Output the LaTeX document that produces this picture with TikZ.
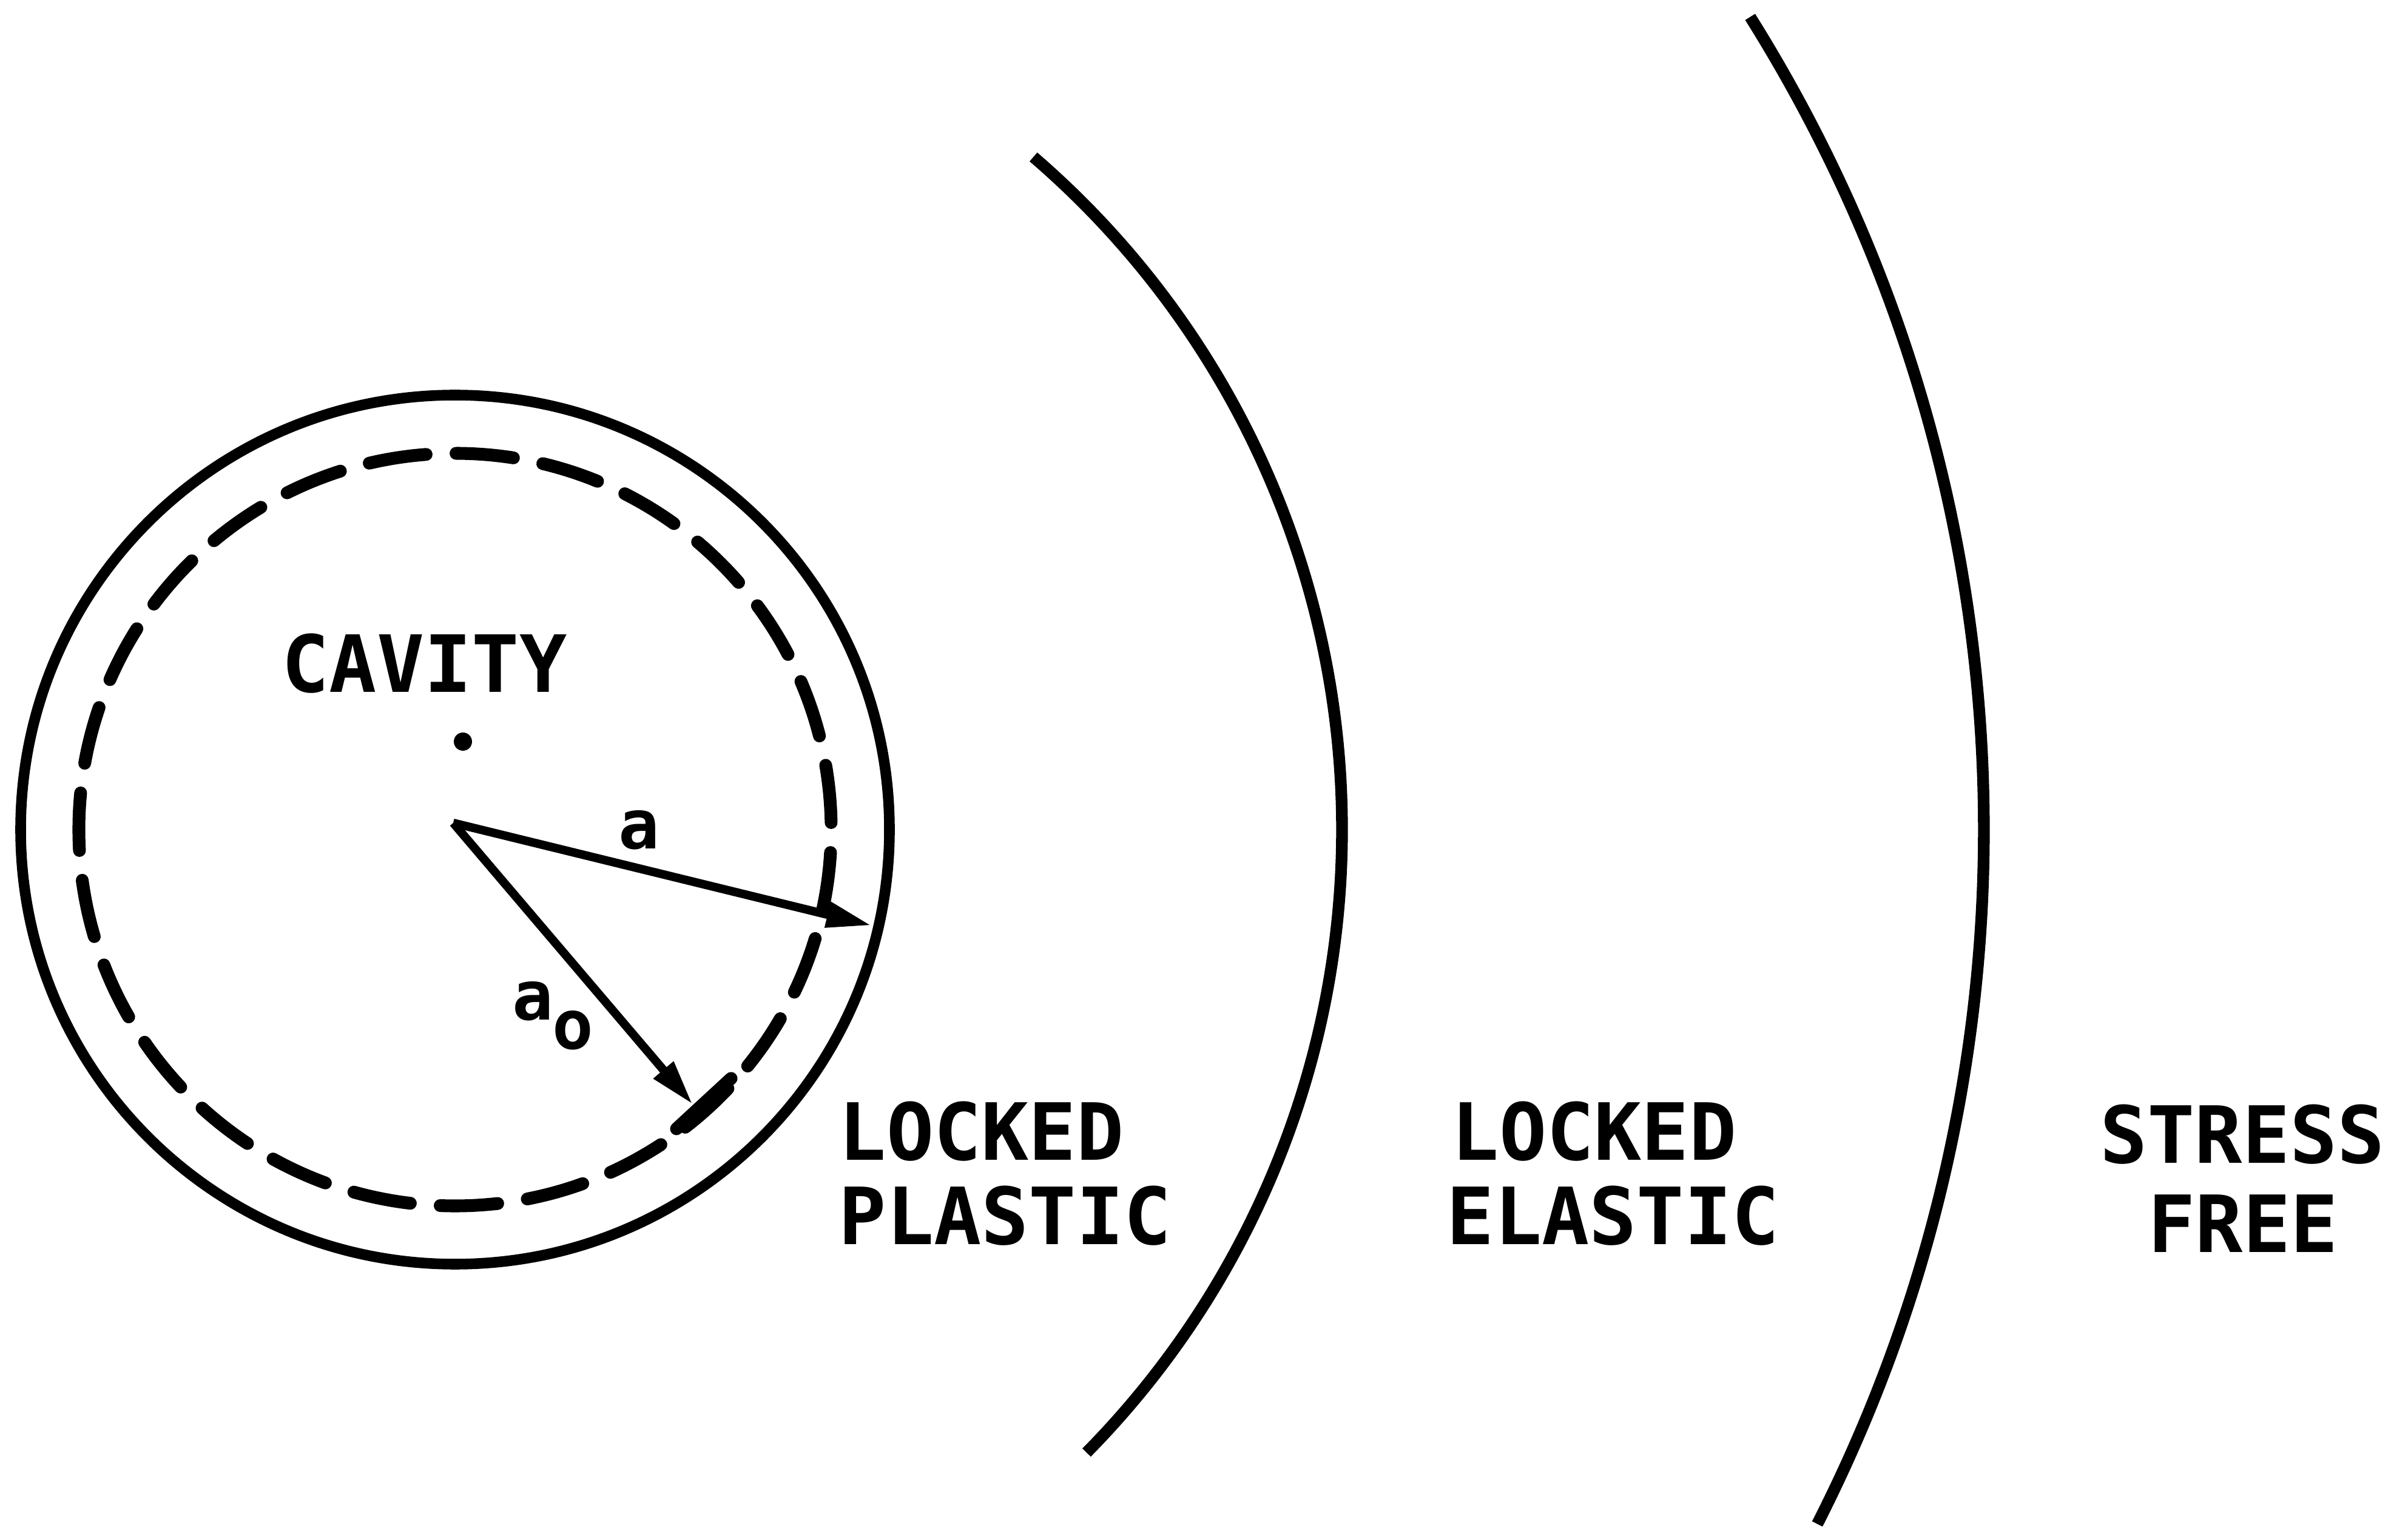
\documentclass[tikz,border=0pt]{standalone}
\usepackage{fontspec}
\newfontfamily\lettering{DejaVu Sans Mono}
\usetikzlibrary{arrows.meta}
\tikzset{
  lbl/.style={inner sep=0pt, font=\lettering\bfseries\fontsize{37}{40}\selectfont},
  small/.style={inner sep=0pt, font=\lettering\bfseries\fontsize{32}{34}\selectfont},
  boundary/.style={line width=5.5pt},
  radius arrow/.style={line width=4pt, -{Triangle[length=0.75cm,width=0.4cm]}},
}
\begin{document}
\begin{tikzpicture}
\useasboundingbox (0,0) rectangle (39.69,25.25);
\coordinate (C) at (7.50,11.58);
% cavity circles
\draw[line width=5pt] (C) circle (7.16);
\draw[line width=6pt, line cap=round, dash pattern=on 0.95cm off 0.493cm, dash phase=1.327cm] (C) circle (6.20);
% zone boundaries
\draw[boundary] (C) ++(49.3:14.62) arc[start angle=49.3, end angle=-44.6, radius=14.62];
\draw[boundary] (C) ++(32.1:25.2) arc[start angle=32.1, end angle=-27.0, radius=25.2];
% centre dot and labels
\node[circle, fill, inner sep=0pt, minimum size=0.3cm] (dot) at (7.63,13.03) {};
\node[lbl, anchor=base west] (cavity) at (4.64,13.84) {CAVITY};
% radii
\coordinate (O) at (7.47,11.69);
\coordinate (A) at (14.37,10.00);
\coordinate (A0) at (11.42,7.05);
\coordinate (T1) at (11.15,6.65);
\coordinate (T2) at (12.05,7.48);
\draw[radius arrow] (O) -- (A);
\draw[radius arrow] (O) -- (A0);
\draw[line width=6pt, line cap=round] (T1) -- (T2);
\node[small, anchor=base] (la) at (10.53,11.26) {a};
\node[small, anchor=base west] (lao) at (8.44,8.44) {a\kern-0.02cm\raisebox{-0.48cm}{o}};
% zone labels
\node[lbl, anchor=base west] (lp1) at (13.82,6.14) {LOCKED};
\node[lbl, anchor=base west] (lp2) at (13.82,4.75) {PLASTIC};
\node[lbl, anchor=base west] (le1) at (23.92,6.14) {LOCKED};
\node[lbl, anchor=base west] (le2) at (23.84,4.75) {ELASTIC};
\node[lbl, anchor=base] (sf1) at (36.96,6.09) {STRESS};
\node[lbl, anchor=base] (sf2) at (36.97,4.62) {FREE};
\end{tikzpicture}
\end{document}
